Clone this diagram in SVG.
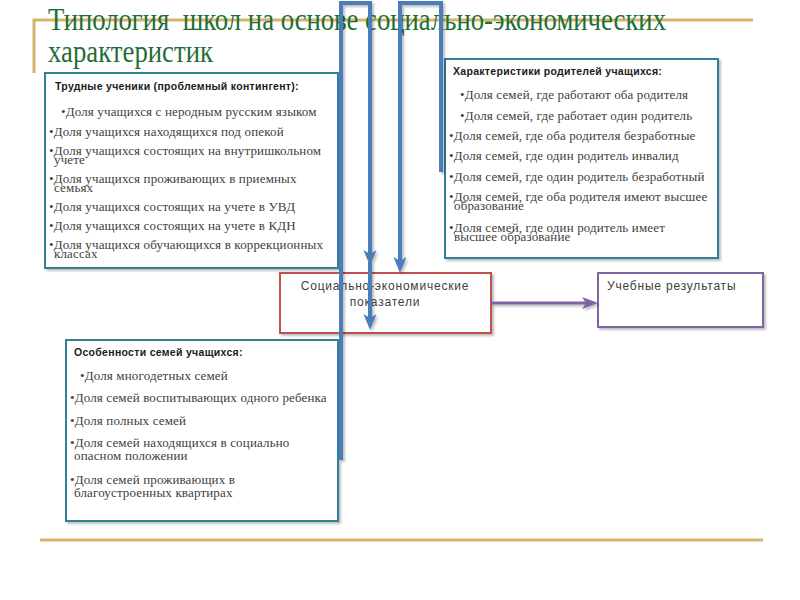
<svg xmlns="http://www.w3.org/2000/svg" width="800" height="600" viewBox="0 0 800 600">
<defs>
<style>
.title{font-family:"Liberation Serif","Times New Roman",serif;font-size:26px;fill:#1f6e35;white-space:pre}
.hd{font-family:"Liberation Sans",Arial,sans-serif;font-size:10.5px;font-weight:bold;fill:#1a1a1a;letter-spacing:0.3px}
.it{font-family:"Liberation Serif","Times New Roman",serif;font-size:13px;fill:#404040;letter-spacing:0.15px}
.lb{font-family:"Liberation Sans",Arial,sans-serif;font-size:12px;fill:#404040;letter-spacing:0.8px}
.box{fill:#fff;stroke:#31809a;stroke-width:2}
.gold{stroke:#d4b56c;stroke-width:3;fill:none}
.conn{fill:none;stroke:#4a7ebb;stroke-width:4;stroke-linejoin:miter}
</style>
<filter id="sh" x="-5%" y="-5%" width="115%" height="115%">
<feDropShadow dx="2" dy="2" stdDeviation="1.2" flood-color="#000" flood-opacity="0.25"/>
</filter>
<marker id="ab" markerUnits="userSpaceOnUse" markerWidth="16" markerHeight="16" viewBox="0 0 16 16" refX="4" refY="8" orient="auto">
<path d="M0,1.5 L16,8 L0,14.5 L4,8 z" fill="#4a7ebb"/>
</marker>
<marker id="ap" markerUnits="userSpaceOnUse" markerWidth="16" markerHeight="16" viewBox="0 0 16 16" refX="4" refY="8" orient="auto">
<path d="M0,2 L16,8 L0,14 L4,8 z" fill="#8064a2"/>
</marker>
</defs>
<rect width="800" height="600" fill="#fff"/>

<g id="frame">
<path class="gold" d="M34,73 V20 H753"/>
<path class="gold" d="M40,540 H763"/>
</g>

<g id="title">
<g transform="translate(48,30) scale(1,1.18)">
<text class="title" x="0" y="0" textLength="618" lengthAdjust="spacingAndGlyphs">Типология  школ на основе социально-экономических</text>
</g>
<g transform="translate(48,62) scale(1,1.18)">
<text class="title" x="0" y="0" textLength="165" lengthAdjust="spacingAndGlyphs">характеристик</text>
</g>
</g>

<g id="students">
<rect class="box" x="45" y="73" width="293" height="195" filter="url(#sh)"/>
<text class="hd" x="55" y="90">Трудные ученики (проблемный контингент):</text>
<text class="it" x="61" y="116">•Доля учащихся с неродным русским языком</text>
<text class="it" x="49" y="136">•Доля учащихся находящихся под опекой</text>
<text class="it" x="49" y="155">•Доля учащихся состоящих на внутришкольном</text>
<text class="it" x="54" y="164">учете</text>
<text class="it" x="49" y="183">•Доля учащихся проживающих в приемных</text>
<text class="it" x="54" y="192">семьях</text>
<text class="it" x="49" y="211">•Доля учащихся состоящих на учете в УВД</text>
<text class="it" x="49" y="230">•Доля учащихся состоящих на учете в КДН</text>
<text class="it" x="49" y="249">•Доля учащихся обучающихся в коррекционных</text>
<text class="it" x="54" y="258">классах</text>
</g>

<g id="parents">
<rect class="box" x="445" y="59" width="273" height="199" filter="url(#sh)"/>
<text class="hd" x="453" y="75">Характеристики родителей учащихся:</text>
<text class="it" x="460" y="99">•Доля семей, где работают оба родителя</text>
<text class="it" x="460" y="120">•Доля семей, где работает один родитель</text>
<text class="it" x="449" y="140">•Доля семей, где оба родителя безработные</text>
<text class="it" x="449" y="160">•Доля семей, где один родитель инвалид</text>
<text class="it" x="449" y="181">•Доля семей, где один родитель безработный</text>
<text class="it" x="449" y="201">•Доля семей, где оба родителя имеют высшее</text>
<text class="it" x="454" y="210">образование</text>
<text class="it" x="449" y="232">•Доля семей, где один родитель имеет</text>
<text class="it" x="454" y="241">высшее образование</text>
</g>

<g id="families">
<rect class="box" x="66" y="340" width="272" height="181" filter="url(#sh)"/>
<text class="hd" x="74" y="356">Особенности семей учащихся:</text>
<text class="it" x="80" y="380">•Доля многодетных семей</text>
<text class="it" x="70" y="402">•Доля семей воспитывающих одного ребенка</text>
<text class="it" x="70" y="425">•Доля полных семей</text>
<text class="it" x="70" y="447">•Доля семей находящихся в социально</text>
<text class="it" x="74" y="460">опасном положении</text>
<text class="it" x="70" y="484">•Доля семей проживающих в</text>
<text class="it" x="74" y="497">благоустроенных квартирах</text>
</g>

<g id="socio">
<rect x="280" y="273" width="211" height="60" fill="#fff" stroke="#c0504d" stroke-width="2" filter="url(#sh)"/>
<text class="lb" x="385" y="290" text-anchor="middle">Социально-экономические</text>
<text class="lb" x="385" y="306" text-anchor="middle">показатели</text>
</g>

<g id="results">
<rect x="598" y="273" width="165" height="54" fill="#fff" stroke="#8064a2" stroke-width="2" filter="url(#sh)"/>
<text class="lb" x="607" y="290">Учебные результаты</text>
</g>

<g id="connectors" filter="url(#sh)">
<path class="conn" d="M341,460 V3 H370 V254" marker-end="url(#ab)"/>
<path class="conn" d="M370,262 V318" marker-end="url(#ab)"/>
<path class="conn" d="M441,172 V3 H400 V261" marker-end="url(#ab)"/>
<path d="M491,303 H586" fill="none" stroke="#8064a2" stroke-width="3" marker-end="url(#ap)"/>
</g>
</svg>
